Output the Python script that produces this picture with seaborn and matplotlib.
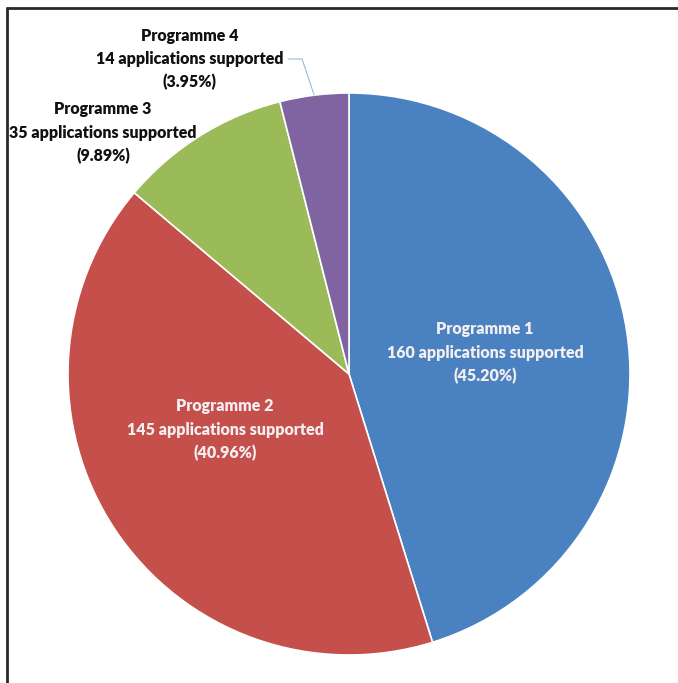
import matplotlib
matplotlib.use("Agg")
import matplotlib.pyplot as plt
import seaborn as sns
import numpy as np
from matplotlib.lines import Line2D

# ---- data ----
programmes = ["Programme 1", "Programme 2", "Programme 3", "Programme 4"]
applications = [160, 145, 35, 14]
percent_labels = ["45.20%", "40.96%", "9.89%", "3.95%"]

sns.set_theme(style="white")
plt.rcParams["font.family"] = ["Lato", "DejaVu Sans"]

colors = sns.color_palette(["#4A82C1", "#C44F4B", "#9BBB59", "#8064A2"])

W, H = 678, 683
fig = plt.figure(figsize=(W / 100, H / 100), dpi=100)
fig.patch.set_facecolor("white")

# pie geometry in pixels (centre 349,374 ; radius 281)
cx, cy, r = 349, 374, 281
ax = fig.add_axes([(cx - r) / W, (H - cy - r) / H, 2 * r / W, 2 * r / H])
wedges, _ = ax.pie(applications, colors=colors, startangle=90, counterclock=False,
                   radius=1.0, wedgeprops=dict(edgecolor="white", linewidth=1.2))
ax.set_xlim(-1, 1)
ax.set_ylim(-1, 1)
ax.set_aspect("equal")
ax.axis("off")

label_pos = [(0.484, 0.075), (-0.441, -0.199), (-0.875, 0.858), (-0.566, 1.121)]
label_col = ["#F4EEF1", "#F4EEF1", "#111111", "#111111"]
for name, n, pct, (x, y), c in zip(programmes, applications, percent_labels, label_pos, label_col):
    ax.text(x, y, f"{name}\n{n} applications supported\n({pct})", ha="center", va="center",
            fontsize=11.5, fontweight="heavy", color=c, linespacing=1.55)

# leader line for programme 4
w4 = wedges[3]
mid = np.deg2rad((w4.theta1 + w4.theta2) / 2)
ex, ey = np.cos(mid), np.sin(mid)
ax.plot([-0.217, -0.167, ex], [1.121, 1.121, ey], color="#9DBBD6", lw=0.8, clip_on=False)

# frame (top and left lines)
fig.add_artist(Line2D([7 / W, 1.0], [1 - 8 / H, 1 - 8 / H], transform=fig.transFigure,
                      color="#2A2A2A", lw=2.0))
fig.add_artist(Line2D([7 / W, 7 / W], [0, 1 - 8 / H], transform=fig.transFigure,
                      color="#2A2A2A", lw=2.0))

fig.savefig("out.png", dpi=100, facecolor="white")
